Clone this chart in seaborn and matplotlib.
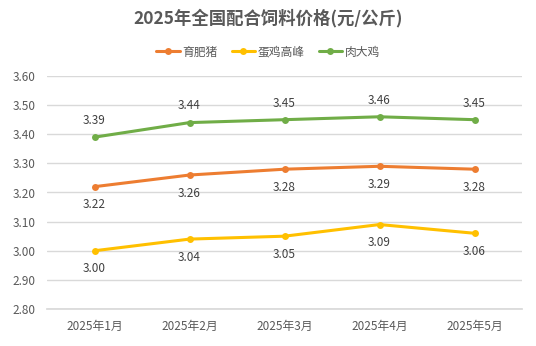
import matplotlib
matplotlib.use("Agg")
import matplotlib.pyplot as plt
import seaborn as sns
import pandas as pd
import numpy as np
from matplotlib.lines import Line2D

months = ["2025年1月", "2025年2月", "2025年3月", "2025年4月", "2025年5月"]
pig = [3.22, 3.26, 3.28, 3.29, 3.28]
layer = [3.00, 3.04, 3.05, 3.09, 3.06]
broiler = [3.39, 3.44, 3.45, 3.46, 3.45]
series_names = ["育肥猪", "蛋鸡高峰", "肉大鸡"]
yticks = [2.80, 2.90, 3.00, 3.10, 3.20, 3.30, 3.40, 3.50, 3.60]

sns.set_theme(style="white")
plt.rcParams['font.family'] = ['Noto Sans CJK SC', 'DejaVu Sans']

colors = {"育肥猪": "#ED7D31", "蛋鸡高峰": "#FFC000", "肉大鸡": "#70AD47"}
rows = []
for name, vals in zip(series_names, [pig, layer, broiler]):
    for i, v in enumerate(vals):
        rows.append({"x": i, "value": v, "series": name})
df = pd.DataFrame(rows)

fig = plt.figure(figsize=(5.36, 3.46), dpi=100)
ax = fig.add_axes([47/536, 1-309/346, (522-47)/536, (309-76)/346])

sns.lineplot(data=df, x="x", y="value", hue="series", hue_order=series_names,
             palette=colors, marker="o", markersize=5, markeredgewidth=0,
             linewidth=2.2, ax=ax, legend=False)

offsets = {"育肥猪": -13, "蛋鸡高峰": -13, "肉大鸡": 12}
for name, vals in zip(series_names, [pig, layer, broiler]):
    for i, v in enumerate(vals):
        ax.annotate(f"{v:.2f}", (i, v), xytext=(0, offsets[name]), textcoords="offset points",
                    ha="center", va="center", fontsize=8.5, color="#404040")

ax.set_xlim(-0.5, 4.5)
ax.set_ylim(2.80, 3.60)
ax.set_yticks(yticks)
ax.set_yticklabels([f"{t:.2f}" for t in yticks], fontsize=8.5, color="#595959")
ax.set_xticks(range(len(months)))
ax.set_xticklabels(months, fontsize=8.5, color="#595959")
ax.set_xticks(np.arange(-0.5, 5, 1), minor=True)
ax.tick_params(axis="x", which="major", length=0, pad=8)
ax.tick_params(axis="x", which="minor", length=4, color="#D9D9D9", width=1)
ax.tick_params(axis="y", length=0, pad=8)
ax.grid(axis="y", color="#D9D9D9", linewidth=1)
ax.set_axisbelow(True)
for s in ["top", "right", "left"]:
    ax.spines[s].set_visible(False)
ax.spines["bottom"].set_color("#D9D9D9")
ax.set_xlabel("")
ax.set_ylabel("")

fig.text(0.5, 1-18/346, "2025年全国配合饲料价格(元/公斤)", ha="center", va="center",
         fontsize=12.5, fontweight="bold", color="#595959")

handles = [Line2D([0], [0], color=colors[n], lw=2.2, marker="o", markersize=5, markeredgewidth=0)
           for n in series_names]
fig.legend(handles, series_names, loc="center", bbox_to_anchor=(0.5, 1-52/346), ncol=3,
           frameon=False, fontsize=8.5, handlelength=2.0, columnspacing=1.2, handletextpad=0.2,
           labelcolor="#595959")

fig.savefig("out.png", dpi=100)
